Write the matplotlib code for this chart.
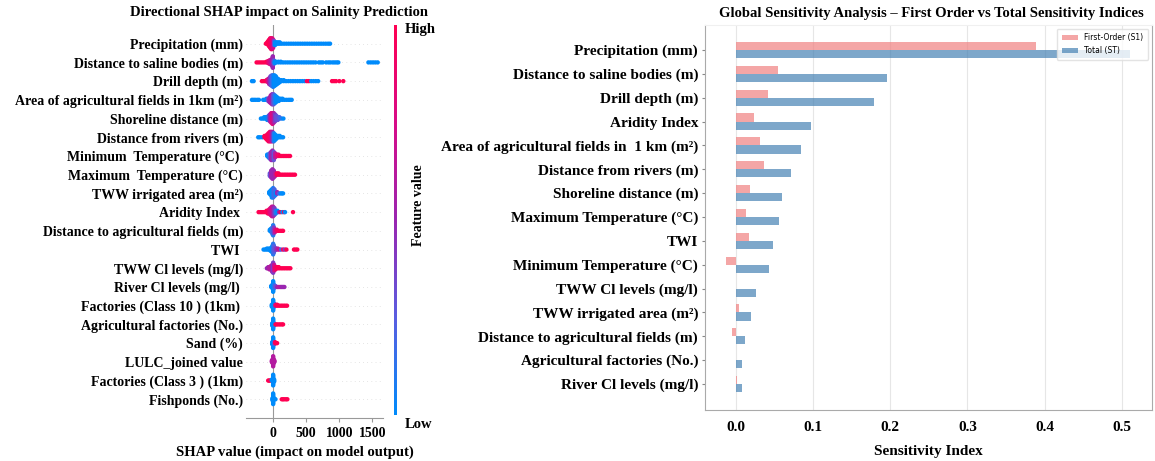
import numpy as np
import matplotlib
matplotlib.use("Agg")
import matplotlib.pyplot as plt
from matplotlib.colors import LinearSegmentedColormap
from matplotlib.cm import ScalarMappable

plt.rcParams["font.family"] = ["Liberation Serif", "DejaVu Serif"]
plt.rcParams["font.weight"] = "bold"

# ---- SHAP beeswarm data: (shap value, n samples, normalised feature value) ----
shap_features = [
    "Precipitation (mm)", "Distance to saline bodies (m)", "Drill depth (m)",
    "Area of agricultural fields in 1km (m\u00b2)", "Shoreline distance (m)",
    "Distance from rivers (m)", "Minimum  Temperature (\u00b0C) ",
    "Maximum  Temperature (\u00b0C)", "TWW irrigated area (m\u00b2)", "Aridity Index ",
    "Distance to agricultural fields (m)", "TWI ", "TWW Cl levels (mg/l)",
    "River Cl levels (mg/l) ", "Factories (Class 10 ) (1km) ",
    "Agricultural factories (No.)", "Sand (%)", "LULC_joined value",
    "Factories (Class 3 ) (1km)", "Fishponds (No.)",
]

precip = [(-110, 1, 1), (-90, 2, 1), (-75, 4, 1), (-60, 6, 1), (-45, 8, .95), (-30, 9, .9),
          (-15, 9, .85), (0, 7, .7), (15, 4, .3), (30, 3, 0), (50, 2, 0), (75, 2, 0),
          (100, 2, 0), (130, 1, 0), (165, 1, 0), (200, 1, 0), (235, 1, 0), (270, 1, 0),
          (305, 1, 0), (340, 1, 0), (375, 1, 0), (410, 1, 0), (445, 1, 0), (480, 1, 0),
          (515, 1, 0), (550, 1, 0), (585, 1, 0), (620, 1, 0), (655, 1, 0), (690, 1, 0),
          (725, 1, 0), (760, 1, 0), (795, 1, 0), (830, 1, 0), (860, 1, 0)]
saline = [(-250, 1, 1), (-220, 1, 1), (-190, 1, 1), (-160, 1, 1), (-130, 1, 1), (-100, 2, 1),
          (-75, 4, .9), (-55, 6, .8), (-35, 8, .7), (-20, 9, .6), (-5, 9, .5), (10, 6, .3),
          (25, 3, 0), (45, 2, 0), (80, 2, 0), (115, 2, 0), (150, 1, 0), (185, 1, 0),
          (220, 1, 0), (255, 1, 0), (290, 1, 0), (325, 1, 0), (360, 1, 0), (395, 1, 0),
          (430, 1, 0), (465, 1, 0), (500, 1, 0), (535, 1, 0), (570, 1, 0), (605, 1, 0),
          (640, 1, 0), (690, 1, 0), (720, 1, 0), (750, 1, 0), (800, 1, 0), (835, 1, 0),
          (865, 1, 0), (900, 1, 0), (930, 1, 0), (960, 1, 0), (985, 1, 0),
          (1440, 1, 0), (1475, 1, 0), (1510, 1, 0), (1545, 1, 0), (1580, 1, 0)]
drill = [(-320, 1, 0), (-295, 1, 0), (-170, 1, 1), (-145, 1, 1), (-120, 1, 1), (-100, 2, 1),
         (-80, 4, .8), (-60, 7, .6), (-40, 10, .4), (-20, 12, .2), (0, 13, .1), (20, 12, 0),
         (40, 10, 0), (60, 7, 0), (80, 5, 0), (100, 3, 0), (125, 2, 0), (160, 2, 0),
         (195, 1, 0), (230, 1, 0), (265, 1, 0), (300, 1, 0), (335, 1, 0), (370, 1, 0),
         (405, 1, 0), (440, 1, 0), (475, 1, 0), (510, 1, 1), (540, 1, 1), (575, 1, 0),
         (610, 1, 0), (645, 1, 0), (680, 1, 0), (890, 1, 1), (920, 1, 1), (950, 1, 1),
         (1000, 1, 1), (1060, 1, 1)]
agri_area = [(-320, 1, 0), (-295, 1, 0), (-270, 1, 0), (-240, 1, 0), (-215, 1, 0),
             (-150, 1, 0), (-125, 1, 0), (-100, 2, 0), (-75, 3, .3), (-55, 5, .5),
             (-35, 8, .6), (-15, 10, .5), (5, 10, .3), (25, 8, .1), (45, 6, 0), (65, 4, 0),
             (85, 3, 0), (110, 2, 0), (140, 2, 0), (170, 1, 0), (200, 1, 0), (230, 1, 0),
             (255, 1, 0), (280, 1, 0)]
shoreline = [(-185, 1, 0), (-160, 1, 0), (-135, 2, 0), (-110, 2, 0), (-90, 3, 0), (-70, 4, .1),
             (-50, 6, .5), (-30, 8, .7), (-10, 9, .8), (10, 8, .6), (30, 6, .4), (50, 4, .3),
             (70, 3, .3), (95, 2, .2), (125, 1, .1), (155, 1, 0)]
rivers = [(-225, 1, 0), (-200, 1, 0), (-165, 1, 0), (-130, 2, 1), (-110, 3, 1), (-90, 5, 1),
          (-70, 7, .95), (-50, 8, .9), (-30, 8, .8), (-10, 8, .5), (10, 7, .1), (30, 5, 0),
          (50, 3, 0), (75, 2, 0), (100, 2, 0), (125, 1, 0), (150, 1, 0)]
min_temp = [(-90, 2, 0), (-70, 3, 0), (-50, 5, .3), (-30, 7, .5), (-10, 8, .5), (10, 7, .3),
            (30, 4, .6), (55, 2, .8), (80, 2, .9), (105, 1, 1), (130, 1, 1), (155, 1, 1),
            (180, 1, 1), (205, 1, 1), (230, 1, 1), (255, 1, 1)]
max_temp = [(-50, 3, .3), (-30, 6, .5), (-10, 8, .5), (10, 6, .5), (30, 3, .6), (55, 2, 1),
            (80, 2, 1), (105, 1, 1), (130, 1, 1), (155, 1, 1), (180, 1, 1), (205, 1, 1),
            (230, 1, 1), (255, 1, 1), (280, 1, 1), (305, 1, 1), (330, 1, 1)]
tww_area = [(-60, 2, 0), (-40, 4, 0), (-20, 7, 0), (0, 8, .1), (20, 6, .2), (40, 3, 0),
            (60, 2, .5), (85, 1, .3), (110, 1, 0), (130, 1, 0), (150, 1, 0)]
aridity = [(-220, 1, 1), (-195, 1, 1), (-170, 1, 1), (-145, 1, 1), (-120, 1, 1), (-100, 2, 1),
           (-80, 3, 1), (-60, 4, .9), (-40, 6, .8), (-20, 8, .7), (0, 8, .6), (20, 6, .4),
           (40, 3, .1), (65, 2, 0), (90, 1, .5), (115, 1, 1), (140, 1, 0), (165, 1, 1),
           (180, 1, 0), (300, 1, 1)]
dist_agri = [(-50, 2, 0), (-30, 4, 0), (-10, 7, .2), (0, 10, .1), (10, 6, .4), (30, 3, .7),
             (55, 2, .9), (80, 1, 1), (105, 1, 1), (130, 1, 1), (150, 1, 1)]
twi = [(-145, 1, 0), (-120, 1, 0), (-95, 2, 0), (-70, 2, 0), (-45, 3, 0), (-25, 5, 0),
       (-10, 8, 0), (0, 12, .1), (10, 8, .2), (25, 4, .3), (45, 2, .4), (70, 2, .6),
       (95, 1, .7), (120, 1, .2), (150, 1, 1), (175, 1, .4), (200, 1, 1), (315, 1, 1),
       (340, 1, 1), (365, 1, 1)]
tww_cl = [(-95, 1, .5), (-75, 2, .5), (-55, 3, .6), (-35, 4, .6), (-15, 7, .5), (0, 10, .4),
          (15, 6, .7), (35, 3, .9), (60, 2, 1), (85, 2, 1), (110, 1, 1), (135, 1, 1),
          (160, 1, 1), (185, 1, 1), (210, 1, 1), (235, 1, 1), (260, 1, 1)]
river_cl = [(-30, 2, 0), (-15, 4, 0), (0, 12, 0), (15, 4, .1), (35, 2, .3), (60, 1, .5),
            (85, 1, .6), (110, 1, .6), (130, 1, .5), (150, 1, .5), (170, 1, .5)]
fact10 = [(-20, 3, 0), (0, 12, 0), (15, 4, 0), (35, 2, .8), (60, 2, 1), (85, 1, 1),
          (110, 1, 1), (135, 1, 1), (160, 1, 1), (185, 1, 1), (210, 1, 1)]
agri_fact = [(-15, 3, 0), (0, 12, 0), (15, 3, 0), (35, 1, 1), (55, 1, 1), (80, 1, 1),
             (105, 1, 1), (130, 1, 1), (150, 1, 1)]
sand = [(-15, 3, 0), (0, 12, 0), (15, 3, .2), (30, 2, 1), (45, 1, 1), (60, 1, 1)]
lulc = [(-20, 2, .6), (-10, 4, .6), (0, 10, .6), (10, 4, .6), (20, 2, .6)]
fact3 = [(-75, 1, 1), (-60, 1, 1), (-45, 1, 1), (-20, 2, 0), (0, 12, 0), (15, 3, 0)]
fishponds = [(-10, 3, 0), (0, 12, 0), (15, 2, 0), (35, 1, 0), (130, 1, 1), (150, 1, 1),
             (170, 1, 1), (195, 1, 1), (215, 1, 1)]

swarm_rows = [precip, saline, drill, agri_area, shoreline, rivers, min_temp, max_temp,
              tww_area, aridity, dist_agri, twi, tww_cl, river_cl, fact10, agri_fact,
              sand, lulc, fact3, fishponds]

# ---- Global sensitivity indices ----
gsa_features = [
    "Precipitation (mm)", "Distance to saline bodies (m)", "Drill depth (m)",
    "Aridity Index", "Area of agricultural fields in  1 km (m\u00b2)",
    "Distance from rivers (m)", "Shoreline distance (m)", "Maximum Temperature (\u00b0C)",
    "TWI", "Minimum Temperature (\u00b0C)", "TWW Cl levels (mg/l)",
    "TWW irrigated area (m\u00b2)", "Distance to agricultural fields (m)",
    "Agricultural factories (No.)", "River Cl levels (mg/l)",
]
s1 = [0.389, 0.055, 0.041, 0.024, 0.031, 0.037, 0.018, 0.013, 0.017, -0.013,
      0.0, 0.004, -0.005, 0.0, 0.002]
st = [0.511, 0.196, 0.179, 0.097, 0.084, 0.072, 0.060, 0.056, 0.048, 0.043,
      0.026, 0.019, 0.012, 0.008, 0.008]

red_blue = LinearSegmentedColormap.from_list(
    "red_blue", ["#008bfb", "#5a5de0", "#9a25b0", "#d80b88", "#ff0052"])


def swarm(entries, nbins=100, row_height=0.4):
    xs = np.array([e[0] for e in entries for _ in range(e[1])], float)
    fv = np.array([e[2] for e in entries for _ in range(e[1])], float)
    quant = np.round(nbins * (xs - xs.min()) / (xs.max() - xs.min() + 1e-8))
    ys = np.zeros(len(xs))
    layer, last = 0, None
    for i in np.argsort(quant, kind="stable"):
        if quant[i] != last:
            layer = 0
        ys[i] = np.ceil(layer / 2) * ((layer % 2) * 2 - 1)
        layer += 1
        last = quant[i]
    ys *= 0.9 * (row_height / np.max(ys + 1))
    return xs, ys, fv


fig = plt.figure(figsize=(11.55, 4.61), dpi=100)

# ---- left: beeswarm ----
ax = fig.add_axes([0.213, 0.0933, 0.1186, 0.8525])
n = len(shap_features)
ax.axvline(0, color="#999999", lw=0.8, zorder=-1)
for i, rows in enumerate(swarm_rows):
    pos = n - 1 - i
    ax.axhline(pos, color="#cccccc", lw=0.5, dashes=(1, 5), zorder=-1)
    xs, ys, fv = swarm(rows)
    ax.scatter(xs, pos + ys, c=red_blue(fv), s=10, linewidths=0, zorder=3)
ax.set_ylim(-1, n)
ax.set_xlim(-410, 1660)
ax.set_yticks(range(n))
ax.set_yticklabels(shap_features[::-1], fontsize=10, fontweight="bold")
ax.tick_params(axis="y", length=0, pad=2)
ax.set_xticks([0, 500, 1000, 1500])
ax.tick_params(axis="x", labelsize=10, color="#999999", length=3)
for lab in ax.get_xticklabels():
    lab.set_fontweight("bold")
for side in ["top", "right", "left"]:
    ax.spines[side].set_visible(False)
ax.spines["bottom"].set_color("#999999")
ax.set_xlabel("SHAP value (impact on model output)", fontsize=10.5, fontweight="bold",
              labelpad=2)
ax.xaxis.set_label_coords(0.36, -0.07)
fig.text(0.2416, 0.972, "Directional SHAP impact on Salinity Prediction",
         ha="center", va="center", fontsize=10.5, fontweight="bold")

cax = fig.add_axes([0.3411, 0.0998, 0.0030, 0.8460])
cb = fig.colorbar(ScalarMappable(cmap=red_blue), cax=cax)
cb.outline.set_visible(False)
cb.set_ticks([])
fig.text(0.3500, 0.937, "High", ha="left", va="center", fontsize=10.5, fontweight="bold")
fig.text(0.3500, 0.079, "Low", ha="left", va="center", fontsize=10.5, fontweight="bold")
fig.text(0.3625, 0.555, "Feature value", rotation=90, ha="center", va="center",
         fontsize=10, fontweight="bold")

# ---- right: first order vs total sensitivity ----
ax2 = fig.add_axes([0.6104, 0.1106, 0.3870, 0.8352])
y = np.arange(len(gsa_features))
h = 0.34
ax2.barh(y - h / 2, s1, height=h, color="lightcoral", alpha=0.7, label="First-Order (S1)")
ax2.barh(y + h / 2, st, height=h, color="steelblue", alpha=0.7, label="Total (ST)")
ax2.set_ylim(15.09, -1.05)
ax2.set_xlim(-0.04, 0.539)
ax2.set_yticks(y)
ax2.set_yticklabels(gsa_features, fontsize=11, fontweight="bold")
ax2.set_xticks([0.0, 0.1, 0.2, 0.3, 0.4, 0.5])
ax2.set_xticklabels(["0.0", "0.1", "0.2", "0.3", "0.4", "0.5"], fontsize=11,
                    fontweight="bold")
ax2.tick_params(axis="y", length=2, color="#888888", pad=3)
ax2.tick_params(axis="x", length=0, pad=8)
ax2.grid(axis="x", color="#e6e6e6", lw=0.8)
ax2.set_axisbelow(True)
for side in ax2.spines.values():
    side.set_color("#aaaaaa")
    side.set_linewidth(0.8)
ax2.spines["top"].set_color("#f0f0f0")
ax2.set_xlabel("Sensitivity Index", fontsize=11, fontweight="bold", labelpad=8)
leg = ax2.legend(loc="upper right", prop={"family": "DejaVu Sans", "size": 5.5,
                                          "weight": "normal"},
                 frameon=True, handlelength=2.2, borderpad=0.6)
leg.get_frame().set_edgecolor("#dddddd")
fig.text(0.806, 0.970, "Global Sensitivity Analysis \u2013 First Order vs Total Sensitivity Indices",
         ha="center", va="center", fontsize=10.5, fontweight="bold")

fig.savefig("out.png", dpi=100)
